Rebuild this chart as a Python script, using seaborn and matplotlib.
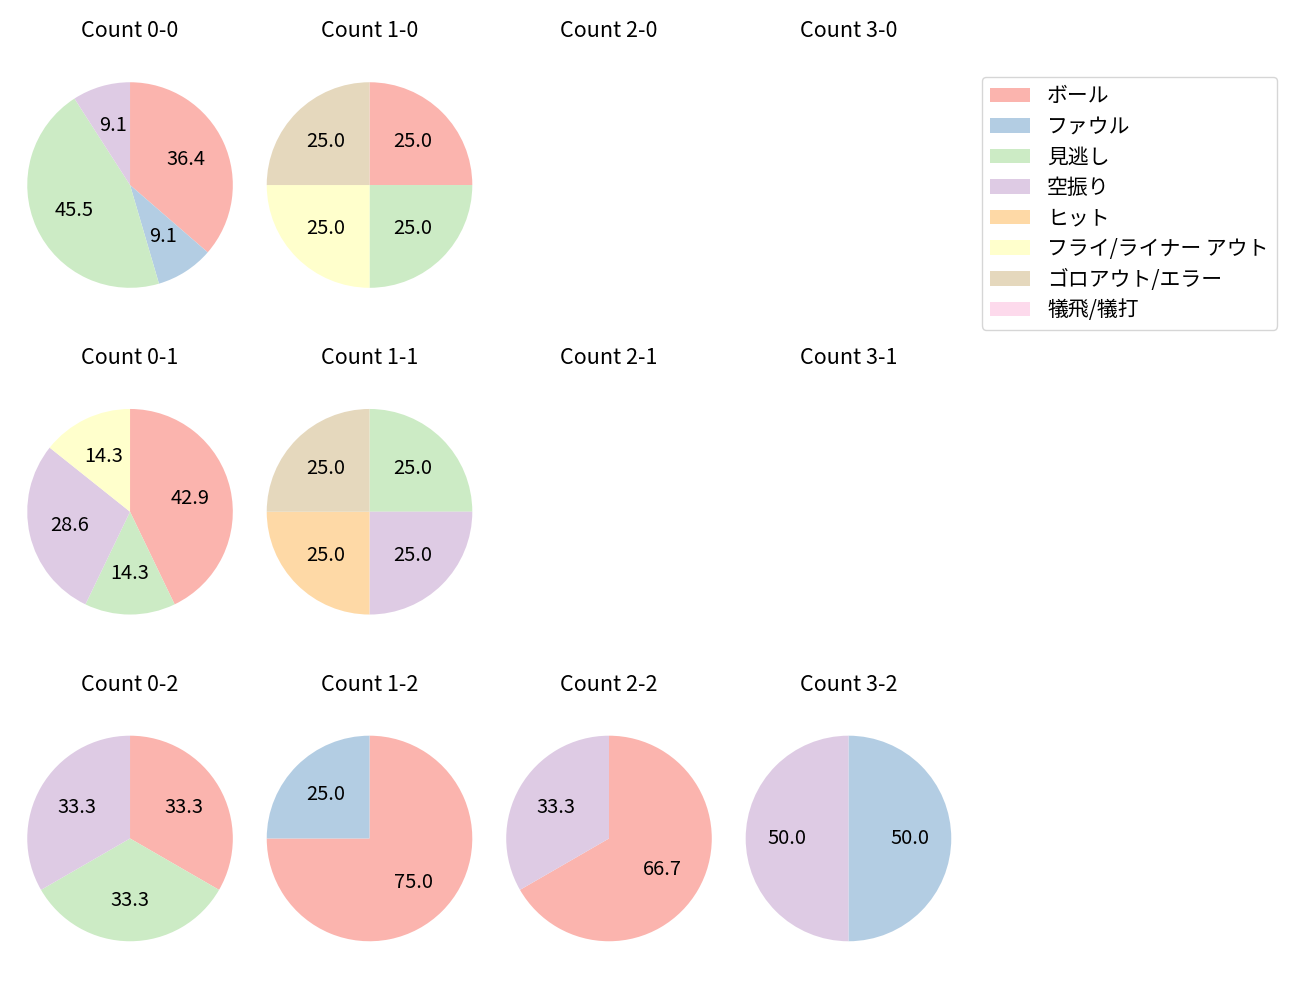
import matplotlib
matplotlib.use("Agg")
import matplotlib.pyplot as plt
import seaborn as sns
from matplotlib.patches import Patch

plt.rcParams['font.family'] = ['Noto Sans CJK JP', 'DejaVu Sans']

categories = ["ボール", "ファウル", "見逃し", "空振り", "ヒット",
              "フライ/ライナー アウト", "ゴロアウト/エラー", "犠飛/犠打"]
colors = sns.color_palette("Pastel1", 8)

count_labels = ["0-0", "1-0", "2-0", "3-0",
                "0-1", "1-1", "2-1", "3-1",
                "0-2", "1-2", "2-2", "3-2"]

# counts per category (same order as categories)
c_0_0 = [4, 1, 5, 1, 0, 0, 0, 0]
c_1_0 = [1, 0, 1, 0, 0, 1, 1, 0]
c_2_0 = [0, 0, 0, 0, 0, 0, 0, 0]
c_3_0 = [0, 0, 0, 0, 0, 0, 0, 0]
c_0_1 = [3, 0, 1, 2, 0, 1, 0, 0]
c_1_1 = [0, 0, 1, 1, 1, 0, 1, 0]
c_2_1 = [0, 0, 0, 0, 0, 0, 0, 0]
c_3_1 = [0, 0, 0, 0, 0, 0, 0, 0]
c_0_2 = [1, 0, 1, 1, 0, 0, 0, 0]
c_1_2 = [3, 1, 0, 0, 0, 0, 0, 0]
c_2_2 = [2, 0, 0, 1, 0, 0, 0, 0]
c_3_2 = [0, 1, 0, 1, 0, 0, 0, 0]

data = [c_0_0, c_1_0, c_2_0, c_3_0,
        c_0_1, c_1_1, c_2_1, c_3_1,
        c_0_2, c_1_2, c_2_2, c_3_2]

fig, axes = plt.subplots(3, 4, figsize=(13, 10), dpi=100)
plt.subplots_adjust(left=0.0012, right=0.7515, top=0.9435, bottom=0.033,
                    wspace=-0.068, hspace=0.271)

for ax, lab, vals in zip(axes.flat, count_labels, data):
    ax.set_title(f"Count {lab}", fontsize=15.5, pad=14, color="black")
    if sum(vals) == 0:
        ax.axis("off")
        continue
    v = [x for x in vals if x > 0]
    c = [colors[i] for i, x in enumerate(vals) if x > 0]
    ax.pie(v, colors=c, startangle=90, counterclock=False,
           autopct="%.1f", textprops={"fontsize": 14.4, "color": "black"})
    ax.set_aspect("equal")

handles = [Patch(facecolor=colors[i], label=categories[i]) for i in range(8)]
fig.legend(handles=handles, loc="upper left", bbox_to_anchor=(0.7554, 0.923),
           borderaxespad=0, fontsize=15, labelspacing=0.41, handlelength=1.92,
           frameon=True)

fig.savefig("out.png", dpi=100)
